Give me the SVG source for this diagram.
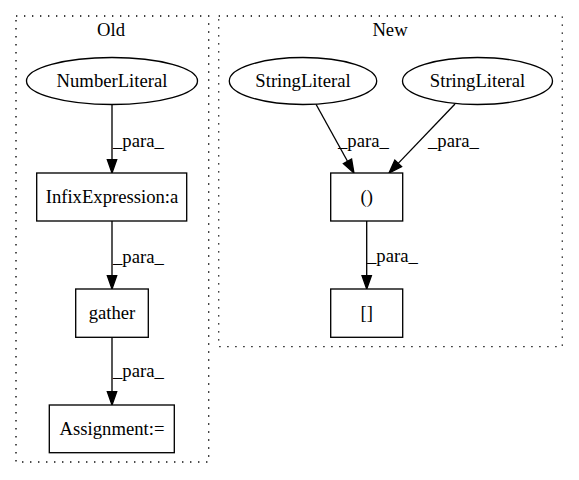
<svg xmlns="http://www.w3.org/2000/svg" width="579" height="480" viewBox="0 0 579 480">
<style>
  text { font-family: "Liberation Serif", "Times New Roman", serif; font-size: 18.67px; fill: #000; }
  .c { text-anchor: middle; }
  .cluster { fill: none; stroke: #000; stroke-width: 1.33; stroke-dasharray: 1.33,6.67; }
  .node { fill: #fff; stroke: #000; stroke-width: 1.33; }
  .edge { fill: none; stroke: #000; stroke-width: 1.33; marker-end: url(#arr); }
</style>
<defs>
  <marker id="arr" markerUnits="userSpaceOnUse" markerWidth="16" markerHeight="12" refX="0" refY="6" orient="auto" viewBox="0 0 16 12" overflow="visible">
    <path d="M0,1.33 L13.33,6 L0,10.67 Z" fill="#000" stroke="#000" stroke-width="1.33"/>
  </marker>
</defs>
<rect width="579" height="480" fill="#fff"/>
<g id="cluster_old">
  <rect class="cluster" x="16" y="16" width="192.7" height="446"/>
  <text class="c" x="111" y="36">Old</text>
</g>
<g id="cluster_new">
  <rect class="cluster" x="218.7" y="16" width="343.6" height="330.7"/>
  <text class="c" x="390" y="36">New</text>
</g>
<g id="connectors">
  <line class="edge" x1="112" y1="104.3" x2="112" y2="159.7"/>
  <line class="edge" x1="112" y1="221" x2="112" y2="275.7"/>
  <line class="edge" x1="112" y1="337.3" x2="112" y2="391.7"/>
  <line class="edge" x1="316" y1="104.3" x2="347.5" y2="161.3"/>
  <line class="edge" x1="455" y1="104" x2="398.2" y2="163.4"/>
  <line class="edge" x1="366.7" y1="221" x2="366.7" y2="275.7"/>
  <text x="113" y="147">_para_</text>
  <text x="113" y="263">_para_</text>
  <text x="113" y="377">_para_</text>
  <text x="338" y="147">_para_</text>
  <text x="428" y="147">_para_</text>
  <text x="367" y="262">_para_</text>
</g>
<g id="NumberLiteral">
  <ellipse class="node" cx="112" cy="81" rx="85.5" ry="23.5"/>
  <text class="c" x="112" y="86.6">NumberLiteral</text>
</g>
<g id="InfixExpression">
  <rect class="node" x="36.7" y="173" width="150" height="48"/>
  <text class="c" x="112" y="202.6">InfixExpression:a</text>
</g>
<g id="gather">
  <rect class="node" x="75.7" y="289" width="72.6" height="48.3"/>
  <text class="c" x="112" y="318.6">gather</text>
</g>
<g id="Assignment">
  <rect class="node" x="49.3" y="405" width="125" height="47.7"/>
  <text class="c" x="112" y="434.6">Assignment:=</text>
</g>
<g id="StringLiteral1">
  <ellipse class="node" cx="303" cy="81" rx="73.7" ry="23.5"/>
  <text class="c" x="303" y="86.6">StringLiteral</text>
</g>
<g id="StringLiteral2">
  <ellipse class="node" cx="477.5" cy="81" rx="75" ry="23.5"/>
  <text class="c" x="477.5" y="86.6">StringLiteral</text>
</g>
<g id="paren">
  <rect class="node" x="330.7" y="173" width="72" height="48"/>
  <text class="c" x="366.7" y="202.6">()</text>
</g>
<g id="bracket">
  <rect class="node" x="330.7" y="289" width="72" height="48.3"/>
  <text class="c" x="366.7" y="318.6">[]</text>
</g>
</svg>
